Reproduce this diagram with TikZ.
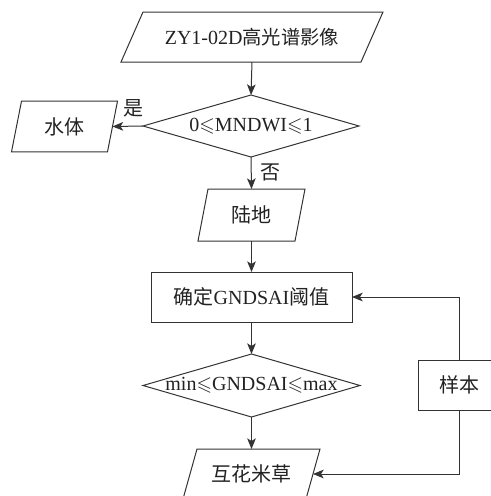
\documentclass[tikz,border=0pt]{standalone}
\usepackage{amssymb}
\usepackage{fontspec}
\setmainfont{Liberation Serif}
\newfontfamily\cjk{Noto Sans CJK SC}
\usetikzlibrary{shapes.geometric,arrows.meta,calc}
\definecolor{linec}{HTML}{333333}
\definecolor{textc}{HTML}{222222}
\tikzset{
  base/.style={inner sep=0pt, outer sep=0pt, font=\fontsize{15pt}{18pt}\selectfont, text=textc},
  parabox/.style={base, rectangle, draw=none},
  rectbox/.style={base, rectangle, draw=linec, line width=0.75pt},
  diabox/.style={base, diamond, draw=linec, line width=0.75pt},
  conn/.style={draw=linec, line width=0.75pt, -{Stealth[length=8pt,width=6.5pt,inset=2pt]}},
  edge/.style={draw=linec, line width=0.75pt, line join=miter},
  lab/.style={base}
}
\begin{document}
\begin{tikzpicture}[x=0.75pt,y=-0.75pt]
\useasboundingbox (0,0) rectangle (491,496);
\clip (0,0) rectangle (491,496);

% nodes
\node[parabox, minimum width=180pt, minimum height=37.5pt] (p0) at (252,37) {ZY1-02D{\cjk\fontsize{14.5pt}{18pt}\selectfont 高光谱影像}};
\node[diabox, minimum width=162pt, minimum height=46.5pt] (d1) at (251,126) {};
\node[lab] (t1) at (d1.center) {0$\leqslant$MNDWI$\leqslant$1};
\node[parabox, minimum width=72pt, minimum height=38pt] (p1) at (64.5,126.5) {\cjk 水体};
\node[parabox, minimum width=72.75pt, minimum height=39pt] (p2) at (251.5,215) {\cjk 陆地};
\node[rectbox, minimum width=150.75pt, minimum height=37.5pt] (r) at (251.5,297) {{\cjk 确定}GNDSAI{\cjk 阈值}};
\node[diabox, minimum width=162.75pt, minimum height=47.25pt] (d2) at (251.5,385.5) {};
\node[lab] (t2) at (d2.center) {min$\leqslant$GNDSAI$\leqslant$max};
\node[parabox, minimum width=92.25pt, minimum height=37.5pt] (p3) at (251.5,474) {\cjk 互花米草};
\node[rectbox, minimum width=61.5pt, minimum height=37.5pt] (s) at (459,385) {\cjk 样本};

% parallelogram outlines
\draw[edge] ($(p0.north west)+(11,0)$) -- ($(p0.north east)+(11,0)$) -- ($(p0.south east)+(-11,0)$) -- ($(p0.south west)+(-11,0)$) -- cycle;
\draw[edge] ($(p1.north west)+(5,0)$) -- ($(p1.north east)+(5,0)$) -- ($(p1.south east)+(-5,0)$) -- ($(p1.south west)+(-5,0)$) -- cycle;
\draw[edge] ($(p2.north west)+(5,0)$) -- ($(p2.north east)+(5,0)$) -- ($(p2.south east)+(-5,0)$) -- ($(p2.south west)+(-5,0)$) -- cycle;
\draw[edge] ($(p3.north west)+(7,0)$) -- ($(p3.north east)+(7,0)$) -- ($(p3.south east)+(-7,0)$) -- ($(p3.south west)+(-7,0)$) -- cycle;

% connectors
\draw[conn] (p0.south) -- (d1.north);
\draw[conn] (d1.west) -- (p1.east);
\draw[conn] (d1.south) -- (p2.north);
\draw[conn] (p2.south) -- (r.north);
\draw[conn] (r.south) -- (d2.north);
\draw[conn] (d2.south) -- (p3.north);
\draw[conn] (s.north) |- (r.east);
\draw[conn] (s.south) |- (p3.east);

% labels
\node[lab] (yes) at (133,108) {\cjk 是};
\node[lab] (no) at (270,172) {\cjk 否};
\end{tikzpicture}
\end{document}
